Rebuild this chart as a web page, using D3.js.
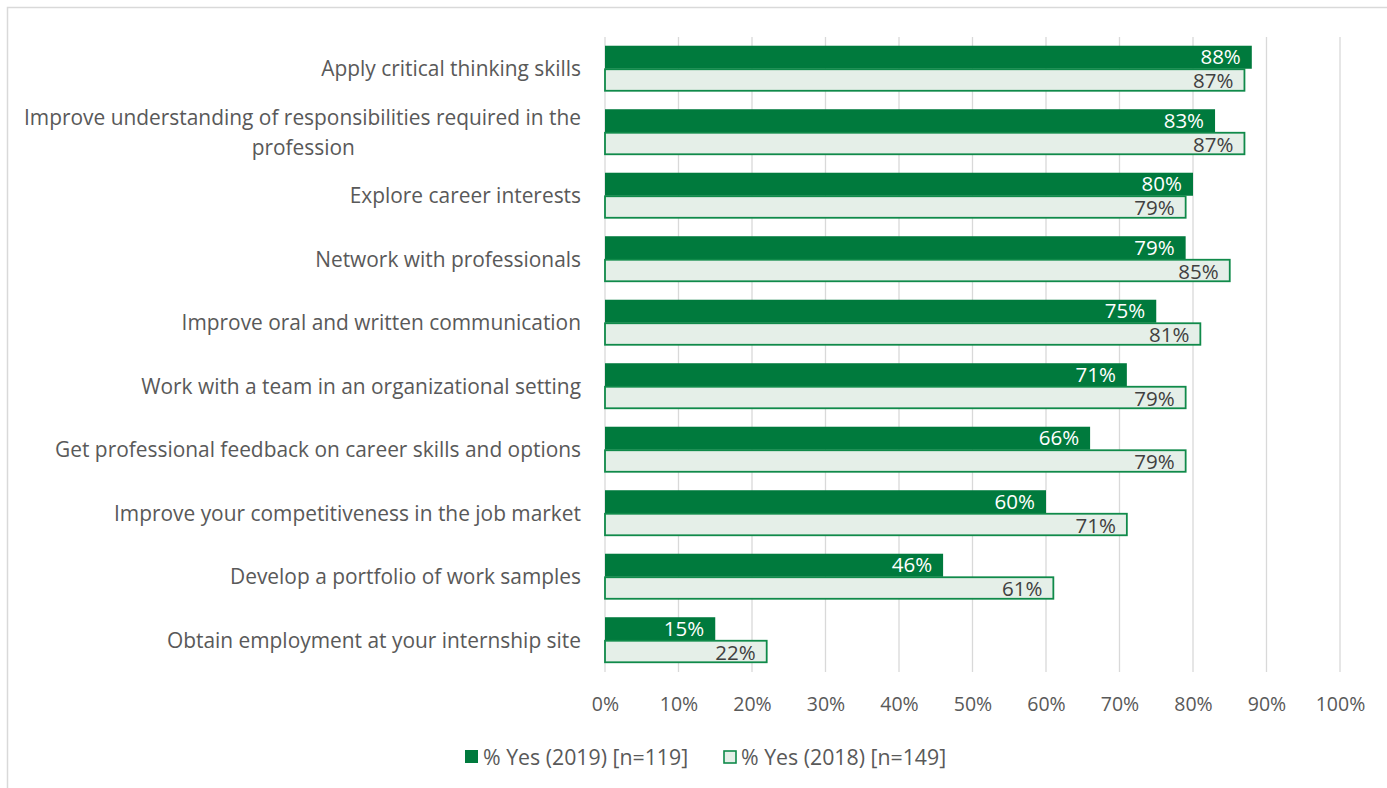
<!DOCTYPE html>
<html>
<head>
<meta charset="utf-8">
<script src="https://cdn.jsdelivr.net/npm/d3@7"></script>
<style>
  html, body { margin: 0; padding: 0; background: #fff; }
  svg { display: block; }
  text { font-family: "Open Sans", Lato, sans-serif; }
</style>
</head>
<body>
<svg id="chart" width="1387" height="788"></svg>
<script>
// Internship outcomes: share of respondents answering "Yes", by year
const categories = [
  "Apply critical thinking skills",
  "Improve understanding of responsibilities required in the profession",
  "Explore career interests",
  "Network with professionals",
  "Improve oral and written communication",
  "Work with a team in an organizational setting",
  "Get professional feedback on career skills and options",
  "Improve your competitiveness in the job market",
  "Develop a portfolio of work samples",
  "Obtain employment at your internship site"
];
const yes2019 = [88, 83, 80, 79, 75, 71, 66, 60, 46, 15];
const yes2018 = [87, 87, 79, 85, 81, 79, 79, 71, 61, 22];
const seriesNames = ["% Yes (2019) [n=119]", "% Yes (2018) [n=149]"];
const tickValues = [0, 10, 20, 30, 40, 50, 60, 70, 80, 90, 100];

const darkGreen = "#007a3d";
const paleGreen = "#e5efe8";
const outlineGreen = "#108a4a";
const gridColor = "#d9d9d9";
const textGray = "#595959";

const svg = d3.select("#chart");

// chart frame
svg.append("rect")
  .attr("x", 7.5).attr("y", 7.5)
  .attr("width", 1400).attr("height", 800)
  .attr("fill", "none").attr("stroke", gridColor).attr("stroke-width", 1.5);

const plot = { left: 605, right: 1340, top: 37, bottom: 672 };

const x = d3.scaleLinear().domain([0, 100]).range([plot.left, plot.right]);
const y = d3.scaleBand().domain(categories)
  .range([plot.top, plot.bottom])
  .paddingInner(0.275).paddingOuter(0.1375);
const sub = d3.scaleBand().domain([0, 1]).range([0, y.bandwidth()]);

// vertical gridlines
svg.append("g").selectAll("line")
  .data(tickValues).join("line")
  .attr("x1", d => x(d)).attr("x2", d => x(d))
  .attr("y1", plot.top).attr("y2", plot.bottom)
  .attr("stroke", gridColor).attr("stroke-width", 1.3);

// x axis tick labels
const xAxis = d3.axisBottom(x).tickValues(tickValues).tickFormat(d => d + "%").tickSize(0).tickPadding(0);
const gx = svg.append("g").attr("transform", `translate(0, ${plot.bottom + 25})`).call(xAxis);
gx.select(".domain").remove();
gx.selectAll("text")
  .attr("fill", textGray).attr("font-size", 19.5)
  .attr("font-family", "'Open Sans', sans-serif");

const rows = categories.map((c, i) => ({ c, v19: yes2019[i], v18: yes2018[i] }));
const g = svg.append("g");

// 2019 bars (solid)
g.selectAll("rect.y19").data(rows).join("rect")
  .attr("class", "y19")
  .attr("x", x(0))
  .attr("y", d => y(d.c) + sub(0))
  .attr("width", d => x(d.v19) - x(0))
  .attr("height", sub.bandwidth())
  .attr("fill", darkGreen);

// 2018 bars (pale with green outline)
g.selectAll("rect.y18").data(rows).join("rect")
  .attr("class", "y18")
  .attr("x", x(0))
  .attr("y", d => y(d.c) + sub(1) + 0.5)
  .attr("width", d => x(d.v18) - x(0))
  .attr("height", sub.bandwidth() - 1.5)
  .attr("fill", paleGreen)
  .attr("stroke", outlineGreen).attr("stroke-width", 1.8);

// value labels inside bar ends
g.selectAll("text.l19").data(rows).join("text")
  .attr("class", "l19")
  .attr("x", d => x(d.v19) - 11)
  .attr("y", d => y(d.c) + sub(0) + sub.bandwidth() / 2)
  .attr("dy", "0.35em")
  .attr("text-anchor", "end")
  .attr("font-size", 20.5)
  .attr("fill", "#ffffff")
  .text(d => d.v19 + "%");

g.selectAll("text.l18").data(rows).join("text")
  .attr("class", "l18")
  .attr("x", d => x(d.v18) - 11)
  .attr("y", d => y(d.c) + sub(1) + sub.bandwidth() / 2)
  .attr("dy", "0.39em")
  .attr("text-anchor", "end")
  .attr("font-size", 20.5)
  .attr("fill", "#404040")
  .text(d => d.v18 + "%");

// category labels (long one wraps onto two lines)
const labelX = plot.left - 24;
const labels = g.selectAll("text.cat").data(rows).join("text")
  .attr("class", "cat")
  .attr("x", labelX)
  .attr("y", d => y(d.c) + y.bandwidth() / 2)
  .attr("text-anchor", "end")
  .attr("font-size", 20.9)
  .attr("fill", textGray);

labels.each(function(d) {
  const t = d3.select(this);
  if (d.c.length > 60) {
    const cut = d.c.lastIndexOf(" ");
    const first = t.append("tspan").attr("x", labelX).attr("dy", "-0.36em").text(d.c.slice(0, cut));
    const w = first.node().getComputedTextLength();
    t.append("tspan").attr("x", labelX - w * 0.406).attr("dy", "1.44em").text(d.c.slice(cut + 1));
  } else {
    t.attr("dy", "0.36em").text(d.c);
  }
});

// legend
const legend = svg.append("g").attr("transform", "translate(465, 757)");
const items = [
  { name: seriesNames[0], fill: darkGreen, stroke: "none", dx: 0 },
  { name: seriesNames[1], fill: paleGreen, stroke: outlineGreen, dx: 258 }
];
const li = legend.selectAll("g").data(items).join("g")
  .attr("transform", d => `translate(${d.dx}, 0)`);
li.append("rect")
  .attr("x", d => d.stroke === "none" ? 0 : 1)
  .attr("y", d => d.stroke === "none" ? -7 : -6)
  .attr("width", d => d.stroke === "none" ? 13 : 12)
  .attr("height", d => d.stroke === "none" ? 13 : 12)
  .attr("fill", d => d.fill)
  .attr("stroke", d => d.stroke).attr("stroke-width", 1.6);
li.append("text")
  .attr("x", 18).attr("y", 0).attr("dy", "0.36em")
  .attr("font-size", 21.3).attr("fill", textGray)
  .text(d => d.name);
</script>
</body>
</html>
